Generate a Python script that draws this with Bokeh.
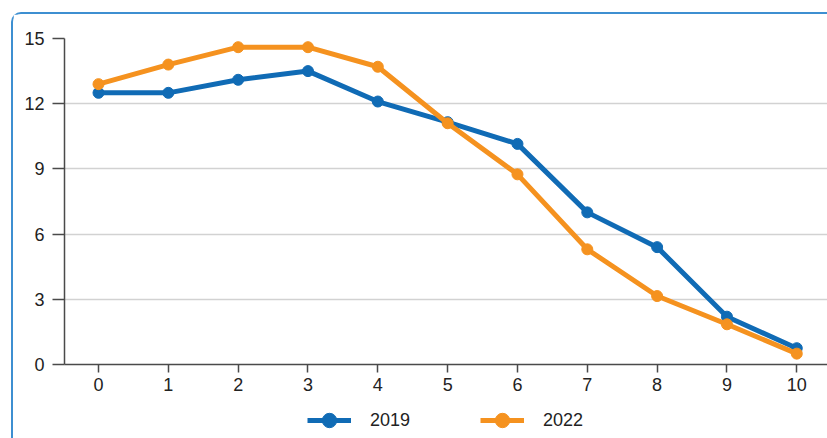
from bokeh.plotting import figure
from bokeh.layouts import column
from bokeh.models import Legend, LegendItem, Range1d, FixedTicker
from bokeh.embed import file_html
from bokeh.resources import INLINE

x_vals = [0, 1, 2, 3, 4, 5, 6, 7, 8, 9, 10]
s2019 = [12.5, 12.5, 13.1, 13.5, 12.1, 11.15, 10.15, 7.0, 5.4, 2.2, 0.75]
s2022 = [12.9, 13.8, 14.6, 14.6, 13.7, 11.1, 8.75, 5.3, 3.15, 1.85, 0.5]
y_ticks = [0, 3, 6, 9, 12, 15]
x_ticks = [0, 1, 2, 3, 4, 5, 6, 7, 8, 9, 10]
names = ["2019", "2022"]

BLUE = "#106bb5"
ORANGE = "#f5921f"
FONT = "Liberation Sans"

p = figure(width=814, height=386, output_backend="svg", toolbar_location=None,
           x_range=Range1d(-0.487, 10.44), y_range=Range1d(0, 15),
           min_border_left=51, min_border_top=24, min_border_right=0, min_border_bottom=36)
p.outline_line_color = None
p.xgrid.grid_line_color = None
p.ygrid.grid_line_color = "#d2d2d2"
p.ygrid.grid_line_width = 1.6
p.yaxis.ticker = FixedTicker(ticks=y_ticks)
p.xaxis.ticker = FixedTicker(ticks=x_ticks)

for ax in (p.xaxis[0], p.yaxis[0]):
    ax.axis_line_color = "#4a4a4a"
    ax.axis_line_width = 1.5
    ax.major_tick_line_color = "#4a4a4a"
    ax.major_tick_line_width = 1.5
    ax.major_tick_in = 0
    ax.minor_tick_line_color = None
    ax.major_label_text_font = FONT
    ax.major_label_text_font_size = "18px"
    ax.major_label_text_color = "#222222"
p.yaxis.major_tick_out = 12
p.yaxis.major_label_standoff = 8
p.xaxis.major_tick_out = 8
p.xaxis.major_label_standoff = 5

p.line(x_vals, s2019, line_color=BLUE, line_width=5)
p.scatter(x_vals, s2019, size=11, fill_color=BLUE, line_color=BLUE)
p.line(x_vals, s2022, line_color=ORANGE, line_width=5)
p.scatter(x_vals, s2022, size=11, fill_color=ORANGE, line_color=ORANGE)

# legend strip below the chart (its ranges keep the series out of view; only the legend shows)
lg = figure(width=814, height=38, output_backend="svg", toolbar_location=None,
            x_range=Range1d(0, 1), y_range=Range1d(-100, -99), x_axis_type=None, y_axis_type=None,
            min_border_left=0, min_border_right=0, min_border_top=0, min_border_bottom=0)
lg.outline_line_color = None
lg.xgrid.grid_line_color = None
lg.ygrid.grid_line_color = None
k1 = lg.line(x_vals, s2019, line_color=BLUE, line_width=5)
m1 = lg.scatter(x_vals, s2019, size=15, fill_color=BLUE, line_color=BLUE)
k2 = lg.line(x_vals, s2022, line_color=ORANGE, line_width=5)
m2 = lg.scatter(x_vals, s2022, size=15, fill_color=ORANGE, line_color=ORANGE)

legend = Legend(items=[LegendItem(label=names[0], renderers=[k1, m1]),
                       LegendItem(label=names[1], renderers=[k2, m2])],
                orientation="horizontal", location=(243, 0),
                glyph_width=44, glyph_height=36, label_standoff=19, spacing=70,
                label_text_font=FONT, label_text_font_size="18px", label_text_color="#222222",
                border_line_color=None, background_fill_alpha=0, padding=1, margin=0)
lg.add_layout(legend, "center")

layout = column(p, lg, spacing=0)
layout.styles = {"border-left": "2px solid #3d8fd1", "border-top": "2px solid #3d8fd1",
                 "border-top-left-radius": "10px", "margin-left": "11px", "margin-top": "12px"}

open("out.html", "w").write(file_html(layout, INLINE))
